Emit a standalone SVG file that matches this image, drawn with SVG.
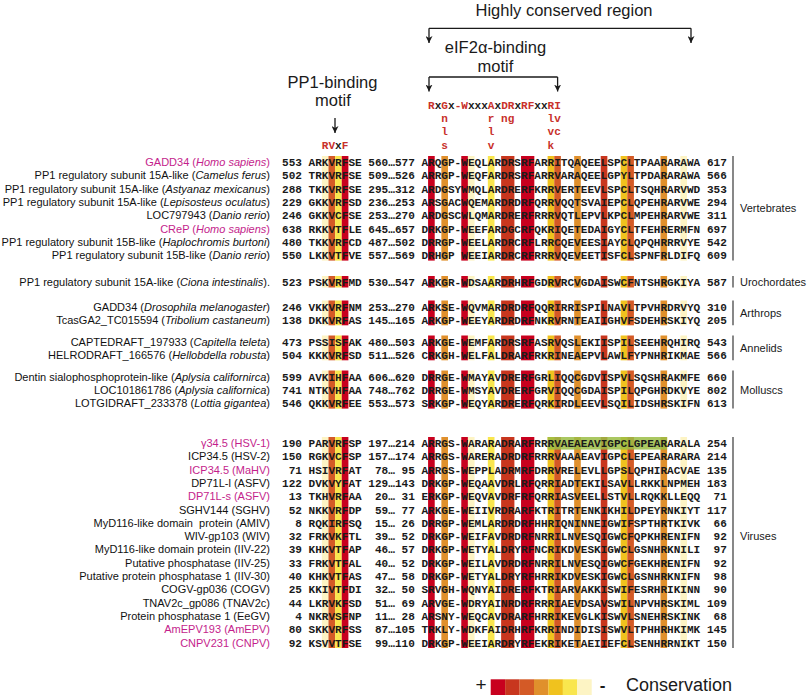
<svg xmlns="http://www.w3.org/2000/svg" xmlns:xlink="http://www.w3.org/1999/xlink" width="807" height="695" viewBox="0 0 807 695" xml:space="preserve">
<style>
.nm{font-family:"Liberation Sans",Arial,sans-serif;font-size:11px;fill:#111;text-anchor:end;white-space:pre}
.mg{fill:#c41e8c}
.it{font-style:italic}
.s{font-family:"Liberation Mono","Courier New",monospace;font-size:11.07px;font-weight:bold;fill:#1a1a1a;white-space:pre}
.mo{font-family:"Liberation Mono","Courier New",monospace;font-size:11.07px;font-weight:bold;fill:#c8312b}
.k{fill:#1a1a1a}
.lab{font-family:"Liberation Sans",Arial,sans-serif;font-size:11px;fill:#1a1a1a}
.gl{stroke:#555;stroke-width:1.4}
.hd{font-family:"Liberation Sans",Arial,sans-serif;font-size:16.5px;fill:#1a1a1a;text-anchor:middle}
.ar{stroke:#1a1a1a;stroke-width:1.3;fill:none}
.lg{font-family:"Liberation Sans",Arial,sans-serif;fill:#1a1a1a}
.c1{fill:#c8001e}.c2{fill:#c8361e}.c3{fill:#d45a26}.c4{fill:#e0902c}.c5{fill:#f0c21e}.c6{fill:#f9e64e}.c7{fill:#fdf4c4}
</style>
<defs>
<marker id="ah" viewBox="0 0 10 10" refX="10" refY="5" markerWidth="7" markerHeight="7" markerUnits="userSpaceOnUse" orient="auto">
<path d="M0,0 L10,5 L0,10 L3,5 z" fill="#1a1a1a"/>
</marker>
<g id="bands">
<rect class="c7" x="321.84" y="0" width="6.64" height="1"/>
<rect class="c3" x="328.48" y="0" width="6.64" height="1"/>
<rect class="c6" x="335.12" y="0" width="6.64" height="1"/>
<rect class="c1" x="341.76" y="0" width="6.64" height="1"/>
<rect class="c1" x="428.08" y="0" width="6.64" height="1"/>
<rect class="c4" x="441.36" y="0" width="6.64" height="1"/>
<rect class="c1" x="461.28" y="0" width="6.64" height="1"/>
<rect class="c7" x="467.92" y="0" width="6.64" height="1"/>
<rect class="c6" x="487.84" y="0" width="6.64" height="1"/>
<rect class="c2" x="501.12" y="0" width="13.28" height="1"/>
<rect class="c1" x="521.04" y="0" width="13.28" height="1"/>
<rect class="c5" x="547.6" y="0" width="6.64" height="1"/>
<rect class="c3" x="554.24" y="0" width="6.64" height="1"/>
<rect class="c4" x="574.16" y="0" width="6.64" height="1"/>
<rect class="c2" x="600.72" y="0" width="6.64" height="1"/>
<rect class="c5" x="620.64" y="0" width="6.64" height="1"/>
<rect class="c3" x="627.28" y="0" width="6.64" height="1"/>
<rect class="c4" x="660.48" y="0" width="6.64" height="1"/>
<rect class="c7" x="680.4" y="0" width="6.64" height="1"/>
</g>
</defs>
<rect width="807" height="695" fill="#fff"/>

<!-- conservation bands -->
<g id="conservation-bands">
<use xlink:href="#bands" transform="translate(0,156) scale(1,104.6)"/>
<use xlink:href="#bands" transform="translate(0,276) scale(1,11.5)"/>
<use xlink:href="#bands" transform="translate(0,300.5) scale(1,24.8)"/>
<use xlink:href="#bands" transform="translate(0,335.5) scale(1,24.8)"/>
<use xlink:href="#bands" transform="translate(0,370.5) scale(1,38.1)"/>
<use xlink:href="#bands" transform="translate(0,437) scale(1,211)"/>
<rect x="547.6" y="437" width="119.52" height="12.6" fill="#9bbd45" opacity="0.85"/>
</g>

<!-- headers -->
<g id="header-highly-conserved"><text class="hd" x="564" y="15.5">Highly conserved region</text></g>
<g id="header-eif2a"><text class="hd" x="495.5" y="53">eIF2α-binding</text><text class="hd" x="495.5" y="72">motif</text></g>
<g id="header-pp1"><text class="hd" x="332.5" y="87.5">PP1-binding</text><text class="hd" x="333" y="106">motif</text></g>

<g id="motif-eif2a">
<text class="mo" x="428.08" y="109">R<tspan class="k">x</tspan>G<tspan class="k">x</tspan>-W<tspan class="k">xxx</tspan>A<tspan class="k">x</tspan>DR<tspan class="k">x</tspan>RF<tspan class="k">xx</tspan>RI</text>
<text class="mo" y="121.8"><tspan x="441.36">n</tspan><tspan x="487.84">r</tspan><tspan x="501.12">ng</tspan><tspan x="547.6">lv</tspan></text>
<text class="mo" y="135.2"><tspan x="441.36">l</tspan><tspan x="487.84">l</tspan><tspan x="547.6">vc</tspan></text>
<text class="mo" y="148.6"><tspan x="441.36">s</tspan><tspan x="487.84">v</tspan><tspan x="547.6">k</tspan></text>
</g>
<g id="motif-pp1"><text class="mo" x="321.84" y="149.4">RV<tspan class="k">x</tspan>F</text></g>

<g id="connectors">
<path class="ar" d="M429,28.3 H691"/>
<path class="ar" d="M429,28.3 V43" marker-end="url(#ah)"/>
<path class="ar" d="M691,28.3 V43" marker-end="url(#ah)"/>
<path class="ar" d="M429,77 H557.6"/>
<path class="ar" d="M429,77 V91.5" marker-end="url(#ah)"/>
<path class="ar" d="M557.6,77 V91.5" marker-end="url(#ah)"/>
<path class="ar" d="M335,118 V133" marker-end="url(#ah)"/>
</g>

<!-- rows -->
<g id="row-gadd34-homo" transform="translate(0,166)"><text class="nm mg" x="270">GADD34 (<tspan class="it">Homo sapiens</tspan>)</text><text class="s" x="282">553 ARKVRFSE 560<tspan x="388.24">…</tspan><tspan x="394.88">577 ARQGP-WEQLARDRSRFARRITQAQEELSPCLTPAARARAWA 617</tspan></text></g>
<g id="row-15a-camelus" transform="translate(0,179.3)"><text class="nm" x="270">PP1 regulatory subunit 15A-like (<tspan class="it">Camelus ferus</tspan>)</text><text class="s" x="282">502 TRKVRFSE 509<tspan x="388.24">…</tspan><tspan x="394.88">526 ARRGP-WEQFARDRSRFARRVARAQEELGPYLTPDARARAWA 566</tspan></text></g>
<g id="row-15a-astyanax" transform="translate(0,192.6)"><text class="nm" x="270">PP1 regulatory subunit 15A-like (<tspan class="it">Astyanaz mexicanus</tspan>)</text><text class="s" x="282">288 TKKVRFSE 295<tspan x="388.24">…</tspan><tspan x="394.88">312 ARDGSYWMQLARDRERFKRRVERTEEVLSPCLTSQHRARVWD 353</tspan></text></g>
<g id="row-15a-lepisosteus" transform="translate(0,205.9)"><text class="nm" x="270">PP1 regulatory subunit 15A-like (<tspan class="it">Lepisosteus oculatus</tspan>)</text><text class="s" x="282">229 GKKVRFSD 236<tspan x="388.24">…</tspan><tspan x="394.88">253 ARSGACWQEMARDRDRFQRRVQQTSVAIEPCLQPEHRARVWE 294</tspan></text></g>
<g id="row-loc797943" transform="translate(0,219.2)"><text class="nm" x="270">LOC797943 (<tspan class="it">Danio rerio</tspan>)</text><text class="s" x="282">246 GKKVCFSE 253<tspan x="388.24">…</tspan><tspan x="394.88">270 ARDGSCWLQMARDRERFRRRVQTLEPVLKPCLMPEHRARVWE 311</tspan></text></g>
<g id="row-crep-homo" transform="translate(0,232.5)"><text class="nm mg" x="270">CReP (<tspan class="it">Homo sapiens</tspan>)</text><text class="s" x="282">638 RKKVTFLE 645<tspan x="388.24">…</tspan><tspan x="394.88">657 DRKGP-WEEFARDGCRFQKRIQETEDAIGYCLTFEHRERMFN 697</tspan></text></g>
<g id="row-15b-haplochromis" transform="translate(0,245.8)"><text class="nm" x="270">PP1 regulatory subunit 15B-like (<tspan class="it">Haplochromis burtoni</tspan>)</text><text class="s" x="282">480 TKKVRFCD 487<tspan x="388.24">…</tspan><tspan x="394.88">502 DRRGP-WEELARDRCRFLRRCQEVEESIAYCLQPQHRRRVYE 542</tspan></text></g>
<g id="row-15b-danio" transform="translate(0,259.1)"><text class="nm" x="270">PP1 regulatory subunit 15B-like (<tspan class="it">Danio rerio</tspan>)</text><text class="s" x="282">550 LKKVTFVE 557<tspan x="388.24">…</tspan><tspan x="394.88">569 DRHGP WEEIARDRCRFRRRVQEVEETISFCLSPNFRLDIFQ 609</tspan></text></g>

<g id="row-15a-ciona" transform="translate(0,286)"><text class="nm" x="270">PP1 regulatory subunit 15A-like (<tspan class="it">Ciona intestinalis</tspan>).</text><text class="s" x="282">523 PSKVRFMD 530<tspan x="388.24">…</tspan><tspan x="394.88">547 ARKGR-WDSAARDRHRFGDRVRCVGDAISWCFNTSHRGKIYA 587</tspan></text></g>

<g id="row-gadd34-drosophila" transform="translate(0,310.5)"><text class="nm" x="270">GADD34 (<tspan class="it">Drosophila melanogaster</tspan>)</text><text class="s" x="282">246 VKKVRFNM 253<tspan x="388.24">…</tspan><tspan x="394.88">270 ARKSE-WQVMARDRDRFQQRIRRISPILNAVLTPVHRDRVYQ 310</tspan></text></g>
<g id="row-tcasga2" transform="translate(0,323.8)"><text class="nm" x="270">TcasGA2_TC015594 (<tspan class="it">Tribolium castaneum</tspan>)</text><text class="s" x="282">138 DKKVRFAS 145<tspan x="388.24">…</tspan><tspan x="394.88">165 ARKGP-WEEYARDRDRFNKRVRNTEAIIGHVFSDEHRSKIYQ 205</tspan></text></g>

<g id="row-captedraft" transform="translate(0,345.5)"><text class="nm" x="270">CAPTEDRAFT_197933 (<tspan class="it">Capitella teleta</tspan>)</text><text class="s" x="282">473 PSSISFAK 480<tspan x="388.24">…</tspan><tspan x="394.88">503 ARKGE-WEMFARDRSRFASRVQSLEKIISPILSEEHRQHIRQ 543</tspan></text></g>
<g id="row-helrodraft" transform="translate(0,358.8)"><text class="nm" x="270">HELRODRAFT_166576 (<tspan class="it">Hellobdella robusta</tspan>)</text><text class="s" x="282">504 KKKVRFSD 511<tspan x="388.24">…</tspan><tspan x="394.88">526 CRKGH-WELFALDRARFRKRINEAEPVLAWLFYPNHRIKMAE 566</tspan></text></g>

<g id="row-dentin-aplysia" transform="translate(0,380.5)"><text class="nm" x="270">Dentin sialophosphoprotein-like (<tspan class="it">Aplysia californirca</tspan>)</text><text class="s" x="282">599 AVKIHFAA 606<tspan x="388.24">…</tspan><tspan x="394.88">620 DRRGE-WMAYAVDRERFGRLIQQCGDVISPVLSQSHRAKMFE 660</tspan></text></g>
<g id="row-loc101861786" transform="translate(0,393.8)"><text class="nm" x="270">LOC101861786 (<tspan class="it">Aplysia californica</tspan>)</text><text class="s" x="282">741 NTKVHFAA 748<tspan x="388.24">…</tspan><tspan x="394.88">762 DRRGE-WMSYAVDRERFGRVIQQCGDAISPILQPGHRDKVYE 802</tspan></text></g>
<g id="row-lotgidraft" transform="translate(0,407.1)"><text class="nm" x="270">LOTGIDRAFT_233378 (<tspan class="it">Lottia gigantea</tspan>)</text><text class="s" x="282">546 QKKVRFEE 553<tspan x="388.24">…</tspan><tspan x="394.88">573 SRKGP-WEQYARDRERFQRKIRDLEEVLSQILIDSHRSKIFN 613</tspan></text></g>

<g id="row-g345-hsv1" transform="translate(0,447)"><text class="nm mg" x="270">γ34.5 (HSV-1)</text><text class="s" x="282">190 PARVRFSP 197<tspan x="388.24">…</tspan><tspan x="394.88">214 ARRGS-WARARADRARFRRRVAEAEAVIGPCLGPEARARALA 254</tspan></text></g>
<g id="row-icp345-hsv2" transform="translate(0,460.3)"><text class="nm" x="270">ICP34.5 (HSV-2)</text><text class="s" x="282">150 RGKVCFSP 157<tspan x="388.24">…</tspan><tspan x="394.88">174 ARRGS-WARERADRDRFRRRVAAAEAVIGPCLEPEARARARA 214</tspan></text></g>
<g id="row-icp345-mahv" transform="translate(0,473.6)"><text class="nm mg" x="270">ICP34.5 (MaHV)</text><text class="s" x="282"> 71 HSIVRFAT  78<tspan x="388.24">…</tspan><tspan x="394.88"> 95 ARRGS-WEPPLADRMRFDRRVRELEVLLGPSLQPHIRACVAE 135</tspan></text></g>
<g id="row-dp71l-l" transform="translate(0,486.9)"><text class="nm" x="270">DP71L-l (ASFV)</text><text class="s" x="282">122 DVKVYFAT 129<tspan x="388.24">…</tspan><tspan x="394.88">143 DRKGP-WEQAAVDRLRFQRRIADTEKILSAVLLRKKLNPMEH 183</tspan></text></g>
<g id="row-dp71l-s" transform="translate(0,500.2)"><text class="nm mg" x="270">DP71L-s (ASFV)</text><text class="s" x="282"> 13 TKHVRFAA  20<tspan x="388.24">…</tspan><tspan x="394.88"> 31 ERKGP-WEQVAVDRFRFQRRIASVEELLSTVLLRQKKLLEQQ  71</tspan></text></g>
<g id="row-sghv144" transform="translate(0,513.5)"><text class="nm" x="270">SGHV144 (SGHV)</text><text class="s" x="282"> 52 NKKVRFDP  59<tspan x="388.24">…</tspan><tspan x="394.88"> 77 ARKGE-WEIIVRDRARFKTRITRTENKIKHILDPEYRNKIYT 117</tspan></text></g>
<g id="row-myd116-amiv" transform="translate(0,526.8)"><text class="nm" x="270">MyD116-like domain  protein (AMIV)</text><text class="s" x="282">  8 RQKIRFSQ  15<tspan x="388.24">…</tspan><tspan x="394.88"> 26 DRRGP-WEMLARDRDRFHHRIQNINNEIGWIFSPTHRTKIVK  66</tspan></text></g>
<g id="row-wiv-gp103" transform="translate(0,540.1)"><text class="nm" x="270">WIV-gp103 (WIV)</text><text class="s" x="282"> 32 FRKVKFTL  39<tspan x="388.24">…</tspan><tspan x="394.88"> 52 DRKGP-WEIFAVDRDRFNRRILNVESQIGWCFQPKHRENIFN  92</tspan></text></g>
<g id="row-myd116-iiv22" transform="translate(0,553.4)"><text class="nm" x="270">MyD116-like domain protein (IIV-22)</text><text class="s" x="282"> 39 KHKVTFAP  46<tspan x="388.24">…</tspan><tspan x="394.88"> 57 DRKGP-WETYALDRYRFNCRIKDVESKIGWCLGSNHRKNILI  97</tspan></text></g>
<g id="row-putative-iiv25" transform="translate(0,566.7)"><text class="nm" x="270">Putative phosphatase (IIV-25)</text><text class="s" x="282"> 33 FRKVTFAL  40<tspan x="388.24">…</tspan><tspan x="394.88"> 52 DRKGP-WEILAVDRDRFNRRILNVESQIGWCFGEKHRENIFN  92</tspan></text></g>
<g id="row-putative-iiv30" transform="translate(0,580)"><text class="nm" x="270">Putative protein phosphatase 1 (IIV-30)</text><text class="s" x="282"> 40 KHKVTFAS  47<tspan x="388.24">…</tspan><tspan x="394.88"> 58 DRKGP-WETYALDRYRFHRRIKDVESKIGWCLGSNHRKNIFN  98</tspan></text></g>
<g id="row-cogv-gp036" transform="translate(0,593.3)"><text class="nm" x="270">COGV-gp036 (COGV)</text><text class="s" x="282"> 25 KKIVTFDI  32<tspan x="388.24">…</tspan><tspan x="394.88"> 50 SRVGH-WQNYAIDRERFKTRIARVAKKISWIFESRHRIKINN  90</tspan></text></g>
<g id="row-tnav2c-gp086" transform="translate(0,606.6)"><text class="nm" x="270">TNAV2c_gp086 (TNAV2c)</text><text class="s" x="282"> 44 LKRVKFSD  51<tspan x="388.24">…</tspan><tspan x="394.88"> 69 ARVGE-WDRYAINRDRFRRRIAEVDSAVSWILNPVHRSKIML 109</tspan></text></g>
<g id="row-pp1-eegv" transform="translate(0,619.9)"><text class="nm" x="270">Protein phosphatase 1 (EeGV)</text><text class="s" x="282">  4 NKRVSFNP  11<tspan x="388.24">…</tspan><tspan x="394.88"> 28 ARSNY-WEQCAVDRARFHRRIKEVGLKISWVLSNEHRSKINK  68</tspan></text></g>
<g id="row-amepv193" transform="translate(0,633.2)"><text class="nm mg" x="270">AmEPV193 (AmEPV)</text><text class="s" x="282"> 80 SKKVRFSS  87<tspan x="388.24">…</tspan><tspan x="394.88">105 TRKLY-WDKFAIDRHRFKRRINDIDISISWVLTPHHRHKIMK 145</tspan></text></g>
<g id="row-cnpv231" transform="translate(0,646.5)"><text class="nm mg" x="270">CNPV231 (CNPV)</text><text class="s" x="282"> 92 KSVVTFSE  99<tspan x="388.24">…</tspan><tspan x="394.88">110 DRKGP-WEEIARDRYRFEKRIKETAEIIEFCLSENHRRNIKT 150</tspan></text></g>

<!-- group labels -->
<g id="group-vertebrates"><line class="gl" x1="733" y1="156" x2="733" y2="260.6"/><text class="lab" x="740" y="212">Vertebrates</text></g>
<g id="group-urochordates"><line class="gl" x1="733" y1="276" x2="733" y2="287.5"/><text class="lab" x="740" y="286">Urochordates</text></g>
<g id="group-arthrops"><line class="gl" x1="733" y1="300.5" x2="733" y2="325.3"/><text class="lab" x="740" y="317">Arthrops</text></g>
<g id="group-annelids"><line class="gl" x1="733" y1="335.5" x2="733" y2="360.3"/><text class="lab" x="740" y="352">Annelids</text></g>
<g id="group-molluscs"><line class="gl" x1="733" y1="370.5" x2="733" y2="408.6"/><text class="lab" x="740" y="393.8">Molluscs</text></g>
<g id="group-viruses"><line class="gl" x1="733" y1="437" x2="733" y2="648"/><text class="lab" x="740" y="540">Viruses</text></g>

<!-- legend -->
<g id="legend">
<text class="lg" x="481" y="690.5" font-size="19" text-anchor="middle">+</text>
<rect class="c1" x="490.7" y="679.3" width="14.5" height="15.7"/>
<rect class="c2" x="505.13" y="679.3" width="14.5" height="15.7"/>
<rect class="c3" x="519.56" y="679.3" width="14.5" height="15.7"/>
<rect class="c4" x="533.99" y="679.3" width="14.5" height="15.7"/>
<rect class="c5" x="548.42" y="679.3" width="14.5" height="15.7"/>
<rect class="c6" x="562.85" y="679.3" width="14.5" height="15.7"/>
<rect class="c7" x="577.28" y="679.3" width="14.43" height="15.7"/>
<text class="lg" x="602.5" y="690.5" font-size="17" font-weight="bold" text-anchor="middle">-</text>
<text class="lg" x="626" y="690.5" font-size="18">Conservation</text>
</g>
</svg>
